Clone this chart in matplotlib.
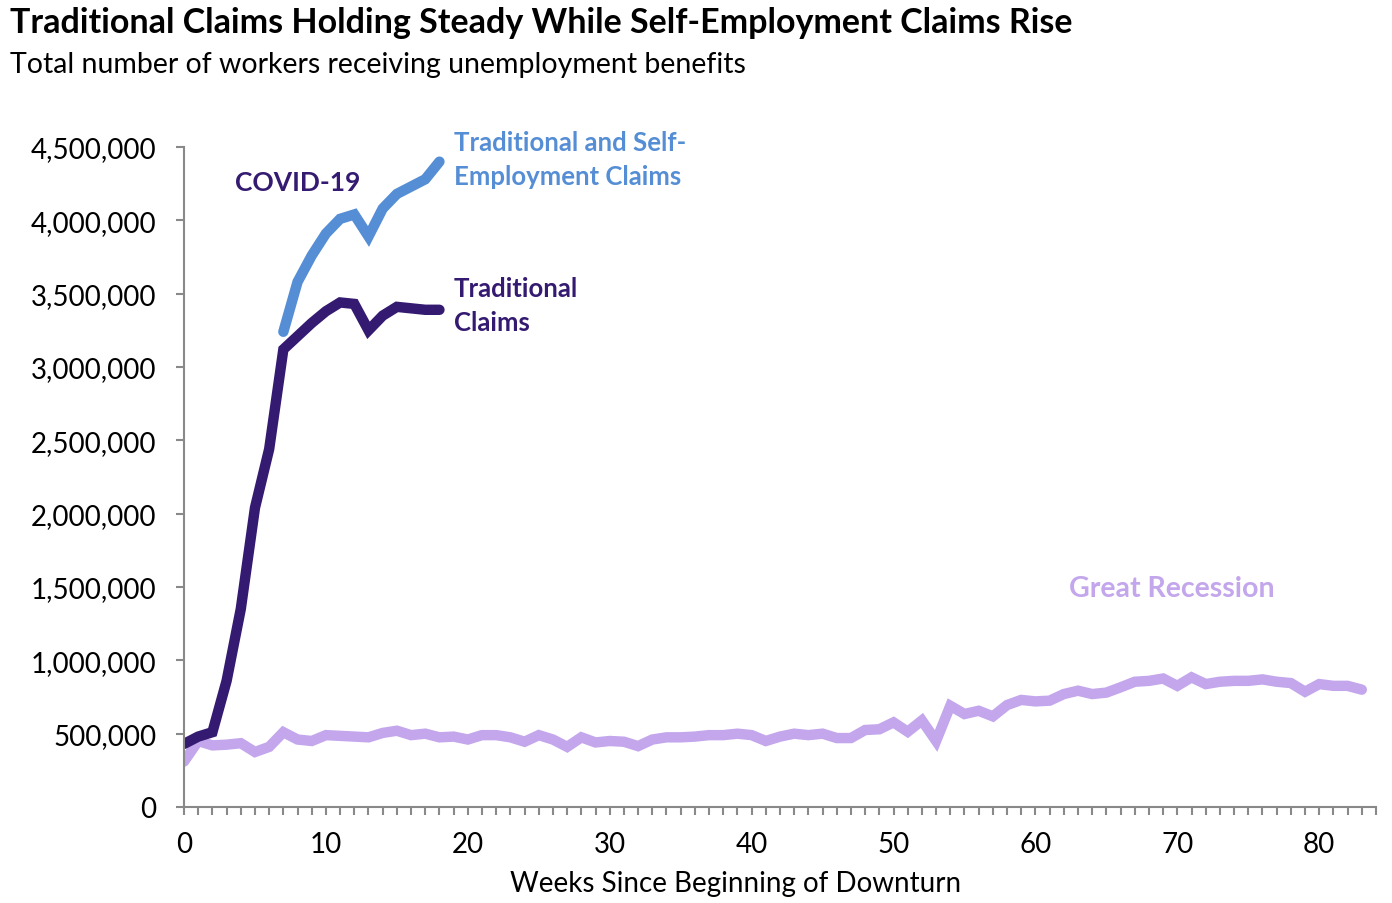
import numpy as np
import matplotlib.pyplot as plt
from matplotlib.ticker import FuncFormatter, MultipleLocator

plt.rcParams['font.family'] = ['Lato', 'DejaVu Sans']

# weeks since beginning of downturn
covid_weeks = list(range(0, 19))
traditional = [430000, 480000, 510000, 860000, 1350000, 2040000, 2440000, 3120000,
               3210000, 3300000, 3380000, 3440000, 3430000, 3250000, 3350000,
               3410000, 3400000, 3390000, 3390000]

combined_weeks = list(range(7, 19))
combined = [3240000, 3580000, 3760000, 3910000, 4010000, 4040000, 3890000,
            4080000, 4180000, 4230000, 4280000, 4400000]

recession_weeks = list(range(0, 84))
recession = [310000, 450000, 420000, 425000, 435000, 375000, 410000, 510000, 460000, 450000,
             490000, 485000, 480000, 475000, 505000, 520000, 490000, 500000, 475000, 480000,
             460000, 490000, 490000, 475000, 445000, 490000, 460000, 410000, 475000, 440000,
             450000, 445000, 415000, 460000, 475000, 475000, 480000, 490000, 490000, 500000,
             490000, 450000, 480000, 500000, 490000, 500000, 470000, 470000, 525000, 530000,
             577000, 513000, 590000, 450000, 690000, 634000, 656000, 618000, 695000, 730000,
             720000, 725000, 770000, 793000, 770000, 780000, 816000, 854000, 860000, 876000,
             826000, 884000, 838000, 854000, 860000, 860000, 870000, 854000, 845000, 786000,
             838000, 826000, 826000, 800000]

c_trad = '#341a70'
c_comb = '#558ed5'
c_rec = '#c3a6ec'

fig = plt.figure(figsize=(13.92, 9.04), dpi=100)
ax = fig.add_axes([0.1322, 0.1062, 0.8563, 0.7301])

ax.plot(recession_weeks, recession, color=c_rec, lw=7.5, solid_capstyle='round', solid_joinstyle='miter')
ax.plot(covid_weeks, traditional, color=c_trad, lw=7.5, solid_capstyle='round', solid_joinstyle='miter')
ax.plot(combined_weeks, combined, color=c_comb, lw=7.5, solid_capstyle='round', solid_joinstyle='miter')

ax.set_xlim(0, 84)
ax.set_ylim(0, 4500000)
ax.xaxis.set_major_locator(MultipleLocator(10))
ax.xaxis.set_minor_locator(MultipleLocator(1))
ax.yaxis.set_major_locator(MultipleLocator(500000))
ax.yaxis.set_major_formatter(FuncFormatter(lambda v, p: f'{int(v):,}'))

for s in ['top', 'right']:
    ax.spines[s].set_visible(False)
for s in ['left', 'bottom']:
    ax.spines[s].set_color('#898989')
    ax.spines[s].set_linewidth(1.5)
ax.tick_params(axis='both', which='both', colors='#898989', width=1.5, labelcolor='black', labelsize=20)
ax.tick_params(axis='x', which='major', length=6, pad=11)
ax.tick_params(axis='x', which='minor', length=6)
ax.tick_params(axis='y', length=6, pad=14)
ax.set_xlabel('Weeks Since Beginning of Downturn', fontsize=20, labelpad=2)
ax.xaxis.set_label_coords(0.463, -0.095)

ax.text(3.6, 4260000, 'COVID-19', color=c_trad, fontsize=19, fontweight='bold', va='center')
ax.text(19.0, 4415000, 'Traditional and Self-\nEmployment Claims', color=c_comb,
        fontsize=18.5, fontweight='bold', va='center', linespacing=1.5)
ax.text(19.0, 3420000, 'Traditional\nClaims', color=c_trad,
        fontsize=18.5, fontweight='bold', va='center', linespacing=1.5)
ax.text(62.4, 1495000, 'Great Recession', color=c_rec, fontsize=20.5, fontweight='bold', va='center')

fig.text(0.007, 0.975, 'Traditional Claims Holding Steady While Self-Employment Claims Rise',
         fontsize=24.5, fontweight='bold', va='center')
fig.text(0.007, 0.928, 'Total number of workers receiving unemployment benefits',
         fontsize=20.5, va='center')

fig.savefig('out.png', dpi=100)
